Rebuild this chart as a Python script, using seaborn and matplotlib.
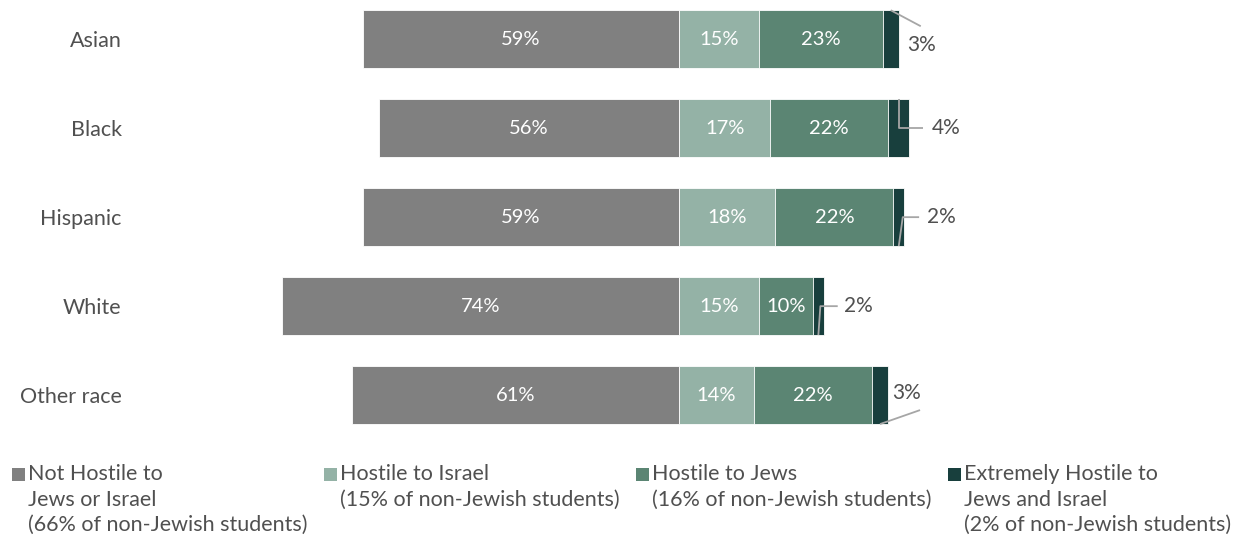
import matplotlib
matplotlib.use("Agg")
import matplotlib.pyplot as plt
import matplotlib.patches as mpatches
import seaborn as sns
import pandas as pd

# Share of non-Jewish students by hostility category, per race group
groups = ["Asian", "Black", "Hispanic", "White", "Other race"]
not_hostile = [59, 56, 59, 74, 61]
hostile_israel = [15, 17, 18, 15, 14]
hostile_jews = [23, 22, 22, 10, 22]
extremely_hostile = [3, 4, 2, 2, 3]

legend_labels = [
    "Not Hostile to\nJews or Israel\n(66% of non-Jewish students)",
    "Hostile to Israel\n(15% of non-Jewish students)",
    "Hostile to Jews\n(16% of non-Jewish students)",
    "Extremely Hostile to\nJews and Israel\n(2% of non-Jewish students)",
]

colors = ["#808080", "#94b2a6", "#5b8573", "#183f3d"]
text_dark = "#505050"
leader_gray = "#a6a6a6"

sns.set_theme(style="white")
plt.rcParams["font.family"] = ["Lato", "DejaVu Sans"]

W, H = 1247, 542
fig = plt.figure(figsize=(W / 100, H / 100), dpi=100)

# Axes placement in pixels; zero line sits at x=679 px, 5.36 px per percent
ax_left_px, ax_right_px = 130, 1240
ax_bottom_px = 445
zero_px, px_per = 679, 5.36
ax = fig.add_axes([ax_left_px / W, 1 - ax_bottom_px / H,
                   (ax_right_px - ax_left_px) / W, ax_bottom_px / H])

df = pd.DataFrame({
    "group": groups,
    "not_hostile": not_hostile,
    "hi": hostile_israel,
    "hj": hostile_jews,
    "xh": extremely_hostile,
})
df["neg"] = -df["not_hostile"]
df["c2"] = df["hi"]
df["c3"] = df["hi"] + df["hj"]
df["c4"] = df["c3"] + df["xh"]

bar_w = 0.65
common = dict(data=df, y="group", orient="h", width=bar_w, ax=ax,
              edgecolor="white", linewidth=0.6, order=groups)
# Right side stacked by overlaying cumulative totals (longest first)
sns.barplot(x="c4", color=colors[3], saturation=1, **common)
sns.barplot(x="c3", color=colors[2], saturation=1, **common)
sns.barplot(x="c2", color=colors[1], saturation=1, **common)
# Left side: not hostile, extending from zero
sns.barplot(x="neg", color=colors[0], saturation=1, **common)

ax.set_xlim(-(zero_px - ax_left_px) / px_per, (ax_right_px - zero_px) / px_per)
ax.set_ylim(4.56, -0.44)
ax.set_xlabel("")
ax.set_ylabel("")
ax.set_xticks([])
for s in ax.spines.values():
    s.set_visible(False)
ax.tick_params(axis="y", length=0, pad=6, labelsize=15.5, labelcolor=text_dark)

fs_in = 14.5
fs = 15
for i in range(len(groups)):
    nh, hi, hj, xh = not_hostile[i], hostile_israel[i], hostile_jews[i], extremely_hostile[i]
    ax.text(-nh / 2, i, f"{nh}%", ha="center", va="center", color="white", fontsize=fs_in)
    ax.text(hi / 2, i, f"{hi}%", ha="center", va="center", color="white", fontsize=fs_in)
    ax.text(hi + hj / 2, i, f"{hj}%", ha="center", va="center", color="white", fontsize=fs_in)

# Callouts for the thin "extremely hostile" segments
half = bar_w / 2
u = 1 / px_per  # one pixel in data units along x
yu = 1 / 89     # one pixel in data units along y
lk = dict(color=leader_gray, lw=1.3, solid_capstyle="butt")
for i in range(len(groups)):
    start = hostile_israel[i] + hostile_jews[i]
    xh = extremely_hostile[i]
    mid = start + xh / 2
    end = start + xh
    lab = f"{xh}%"
    if groups[i] == "Asian":
        ax.plot([mid, end + 22 * u], [i - half, i - half + 16 * yu], **lk)
        ax.text(end + 8 * u, i + 6 * yu, lab, ha="left", va="center", color=text_dark, fontsize=fs)
    elif groups[i] == "Black":
        ax.plot([mid, mid, end + 14 * u], [i - half, i, i], **lk)
        ax.text(end + 22 * u, i, lab, ha="left", va="center", color=text_dark, fontsize=fs)
    elif groups[i] == "Hispanic":
        ax.plot([mid, mid + 4 * u, end + 15 * u], [i + half, i, i], **lk)
        ax.text(end + 23 * u, i, lab, ha="left", va="center", color=text_dark, fontsize=fs)
    elif groups[i] == "White":
        ax.plot([mid, mid + 2 * u, end + 14 * u], [i + half, i, i], **lk)
        ax.text(end + 20 * u, i, lab, ha="left", va="center", color=text_dark, fontsize=fs)
    else:
        ax.plot([mid, end + 32 * u], [i + half, i + half - 14 * yu], **lk)
        ax.text(end + 18 * u, i - 2 * yu, lab, ha="center", va="center", color=text_dark, fontsize=fs)

# Legend: colored squares with multi-line captions, four columns
col_x = [12, 324, 636, 948]
line_y = [474, 499.5, 525]
sq = 13
for cx, col, label in zip(col_x, colors, legend_labels):
    fig.patches.append(mpatches.Rectangle(
        (cx / W, 1 - (line_y[0] + sq / 2) / H), sq / W, sq / H,
        transform=fig.transFigure, facecolor=col, edgecolor="none"))
    for j, line in enumerate(label.split("\n")):
        fig.text((cx + sq + 3) / W, 1 - line_y[j] / H, line, ha="left", va="center",
                 color=text_dark, fontsize=15.5)

fig.savefig("out.png", dpi=100)
